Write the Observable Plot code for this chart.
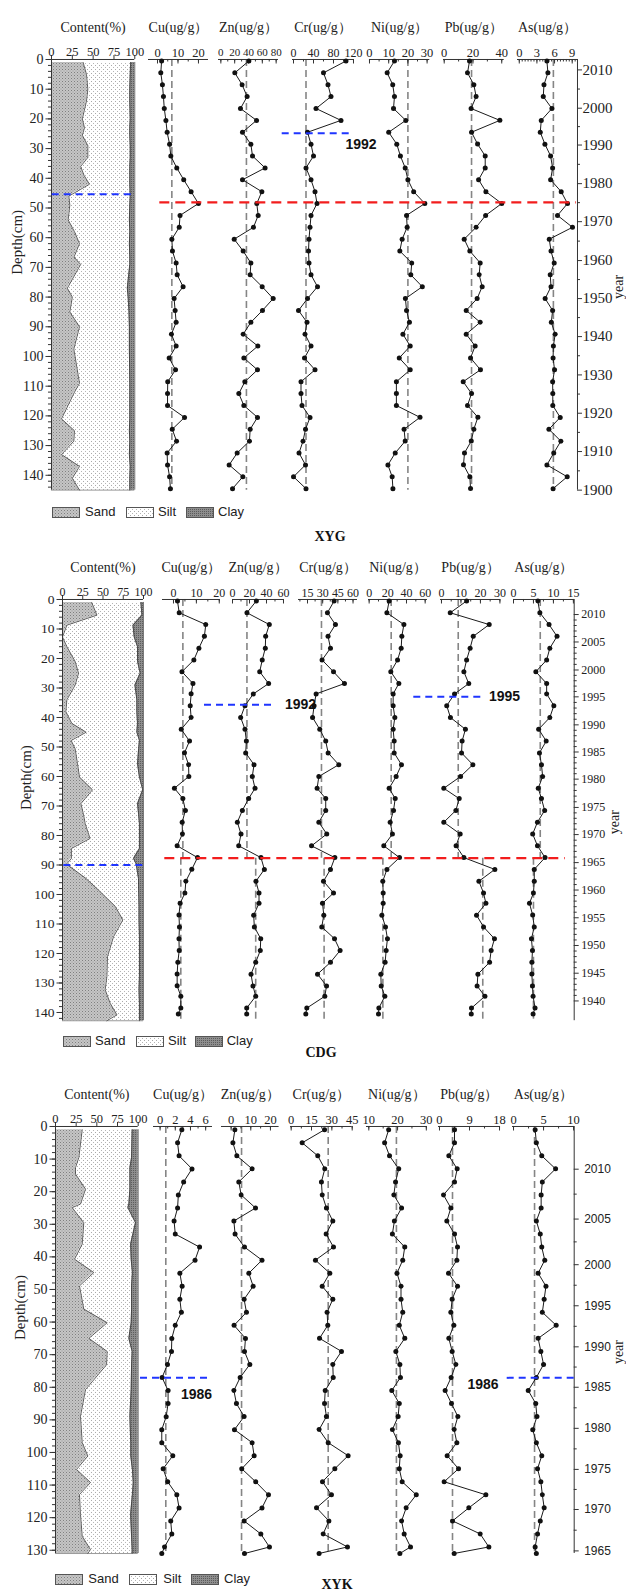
<!DOCTYPE html>
<html><head><meta charset="utf-8">
<script src="https://cdn.jsdelivr.net/npm/d3@7"></script>
<script src="https://cdn.jsdelivr.net/npm/@observablehq/plot@0.6"></script>
<style>
body{margin:0;background:#fff;}
#root{position:relative;width:626px;height:1592px;overflow:hidden;background:#fff;}
.lgt{position:absolute;font-family:"Liberation Sans",Arial,sans-serif;font-size:13px;color:#222;line-height:16px;}
.lgb{position:absolute;}
.pl{position:absolute;font-family:"Liberation Serif","Times New Roman",serif;font-weight:bold;font-size:14px;color:#111;transform:translateX(-50%);line-height:16px;}
</style></head><body>
<svg width="0" height="0" style="position:absolute">
<defs>
<pattern id="patSand" width="3" height="3" patternUnits="userSpaceOnUse"><rect width="3" height="3" fill="#c6c6c6"/><rect x="0" y="0" width="1" height="1" fill="#7e7e7e"/><rect x="1.5" y="1.5" width="1" height="1" fill="#969696"/></pattern>
<pattern id="patSilt" width="4" height="4" patternUnits="userSpaceOnUse"><rect width="4" height="4" fill="#ffffff"/><rect x="0" y="0" width="1" height="1" fill="#a8a8a8"/><rect x="2" y="2" width="1" height="1" fill="#b4b4b4"/></pattern>
<pattern id="patClay" width="2" height="2" patternUnits="userSpaceOnUse"><rect width="2" height="2" fill="#8e8e8e"/><rect width="1" height="1" fill="#5c5c5c"/></pattern>
</defs></svg>
<div id="root"></div>
<script>
// ================= DATA =================
// ---- XYG ----
const xygDepth = [0.5,4.5,8.5,12.5,16.5,20.5,24.5,28.5,32.5,36.5,40.5,44.5,48.5,52.5,56.5,60.5,64.5,68.5,72.5,76.5,80.5,84.5,88.5,92.5,96.5,100.5,104.5,108.5,112.5,116.5,120.5,124.5,128.5,132.5,136.5,140.5,144.5];
const xygCu = [2.0,1.6,2.4,2.9,3.3,4.1,4.7,5.9,6.5,9.4,12.8,16.4,20.0,11.0,10.6,7.0,7.3,9.1,9.6,12.5,8.1,8.6,9.1,6.8,9.1,5.7,8.8,5.0,4.9,4.9,13.2,7.2,9.3,4.7,4.9,5.9,6.3];
const xygZn = [40.5,20.2,30.8,38,28.4,51.6,31.3,43.4,45.8,64,31.3,59.3,52,54,47.2,19.3,32.3,43.4,42.4,59.8,75.7,60.2,43.4,32.3,53.5,33.3,53,34.7,26,33.3,53,42.4,41.4,23.6,12,31.8,16.9];
const xygCr = [105,60,69,75,45,95,28,35,40,25,35,43,47,35,33,31,30,31,35,48,28,10,27,23,35,22,43,15,15,17,33,24,19,11,24,0,25];
const xygNi = [13,9.2,12.1,13,12.5,18.9,10,14.2,16.1,18.6,20,23,28.8,19.3,19.6,17,15.8,22,21.5,27.5,18.7,19.3,20.8,17.4,21.2,15.5,21.2,14,14,14,26.3,18,18.6,13.4,9.6,11.8,12.2];
const xygPb = [17.6,16.2,20.6,22.2,18.7,38.7,19,23.2,28.5,28.5,23.9,29,40,28.8,22.2,13.9,17.8,25,24.3,26.4,22.9,15.3,25,15.3,21.5,18.3,25.2,13.2,19,16.2,23.4,20.6,18.8,14.1,13.4,17.8,18.3];
const xygAs = [4.7,4.87,4.2,4.08,5.55,3.74,3.57,4.36,5.33,5.67,5.33,7.13,8.2,6.5,9.05,5.1,5.4,5.94,5.26,5.4,4.4,5.67,5.45,6.1,5.8,5.75,6.0,5.67,5.7,5.7,6.96,5.04,7.07,5.86,4.7,8.15,5.75];
const xygBase = [7,37,25,20,19,5.8];
const xygContentDepth = [1,5,10,14,20,23,25.5,29,33,36,39,42,46,49,54,58,62,66.5,69,77,80,85,90,97.5,109,112,121,125,128.5,133,137,141,145];
const xygSand = [38,42,43.6,42,37,39.6,37,43.6,43.6,35,39,45.6,20.8,22,20,27.6,33.6,27,35,19,25,22,33.6,26.8,33.6,27.6,12,27.6,26.8,12,33.6,25,33.6];
const xygClay = [5,5.5,6,6,5.5,6,6,5.5,5.5,6,6,6,5.5,6,6.5,6,6.5,6,6,9,8,7,6.5,6.5,6,6,6,6.5,6,6.5,5.5,6,6];
const xygYears = [2010,2000,1990,1980,1970,1960,1950,1940,1930,1920,1910,1900];
const xygYearDepth = [3.5,16.4,28.8,41.8,54.6,67.7,80.5,93.3,106.2,119.1,132,145];

// ---- CDG ----
const cdgDepth = [0.5,4.5,8.5,12.5,16.5,20.5,24.5,28.5,32,36,40,44,48,52,56,60,64,67.5,71.5,75.5,79.5,83.5,87.5,91.5,95.5,99.5,103,107,111,115,119,123,127,131,134.5,138.5,140.5];
const cdgCu = [1.75,2.5,14.1,13.5,11.1,8.9,3.7,8.5,7.7,7.3,7.7,3.4,7,4.8,6.6,6.7,0.4,4.1,5.2,3.8,3.9,1.6,10.5,8,5.4,5,2.9,2.4,2.6,2.4,2.5,1.9,1.6,1.6,3.2,3.2,2.1];
const cdgZn = [28,17,43.3,39,38.6,35,32,42.5,24.5,14.7,9.6,14.7,16.3,15.5,25.3,23.3,26.5,19,11.6,5.7,10,7.3,33.5,37.5,27.6,31.2,31.2,24.9,25.7,33.2,32.7,27.3,21.8,24.1,27.3,16.7,16.7];
const cdgCr = [41.3,34.7,42.6,35.3,37.7,29.4,40.7,51.5,23.5,21.5,20,27.1,33,35.4,45.9,26.2,24.5,33,33,26.2,34,19,42,37.7,30.8,40.7,29.8,31.1,29.1,41.7,47.2,37.7,24.9,33.8,32.1,14.3,13.3];
const cdgNi = [21.4,19,37.2,35,34.3,30.4,23.2,31.8,25.7,25.7,27.5,25.7,26.8,26.8,34.6,28.9,21.4,27.9,26.1,22.5,25,15.7,32.5,19,14.6,15,15,13.6,17.5,19.6,18.2,17.1,12.5,12.9,16.8,10.4,10];
const cdgPb = [12.9,4.5,24.5,16.3,14.7,12.9,11.5,14,6.7,2.7,4.6,12.3,10.6,10.3,16.1,9.8,1.2,9.1,7.4,1.2,9.6,7.5,11.5,27.4,19.2,21.6,22.8,18,21.6,27.2,25.5,24.7,18.7,18.3,22.3,15.4,15.3];
const cdgAs = [6.1,6.6,8.9,10.9,9.1,8.3,5.6,8.3,8.3,10.1,9.1,6.3,8.2,6.5,7,7.3,6.2,7,7.8,6,4.8,6,7.9,5.2,5.2,5,4,4.8,5.2,4.5,4.75,4.6,4.6,4.75,4.9,5.4,4.9];
const cdgBaseUpper = [4.1,17,28.8,23.6,8.6,6.7];
const cdgBaseLower = [3.2,27.3,31.4,14.7,21.2,5.0];
const cdgContentDepth = [1,5.3,8.7,12.7,16,21,25,29,34,38,42,45,47.8,50.6,55.7,60.2,64.5,69.2,73,76,81,84.4,87.8,89.7,94.6,98.5,104,108.6,114.3,121,127.8,132.3,136.9,140.8,142.8];
const cdgSand = [36,42.5,5.4,0,5.4,15.6,19.8,15.6,5.4,4.1,11.5,29.2,10.7,15.6,18.5,21,37,22.7,26,28,34,11,11,4.9,29.2,44.4,65,74.5,63,55.6,54.8,52.7,58.9,67.2,54.8];
const cdgClay = [3.2,2,13,11.5,7.4,7.4,4.1,10.6,8.2,8.2,7.4,8.2,5,6,7.4,5,1,7.4,6,5,5,5,12.4,9,6.2,6,5.5,5.5,5,5,5,5.5,5,5,5];
const cdgYears = [2010,2005,2000,1995,1990,1985,1980,1975,1970,1965,1960,1955,1950,1945,1940];
const cdgYearDepth = [5.1,14.4,23.9,33.0,42.5,51.7,60.9,70.5,79.7,89.2,98.5,107.9,117.3,126.7,136.1];

// ---- XYK ----
const xykDepth = [1,5,9,13,17,21,25,29,33,37,41,45,49,53,57,61,65,69,73,77,81,85,89,93,97,101,105,109,113,117,121,125,129,131];
const xykCu = [2.86,2.3,2.5,4.2,3.1,2.4,2.3,1.84,2,5.2,4.6,2.6,2.9,2.6,2.8,2,1.54,1.5,0.97,0.26,1.05,1.05,0.8,0.22,0.22,1.67,0.4,1.0,2.2,2.5,1.4,1.54,0.58,0.22];
const xykZn = [1.9,0.9,2.9,10.7,3.9,5.1,12.4,1.4,2,6.8,15.7,9,11.2,6.6,7.8,1.5,7.3,6.8,9.5,4.6,1.4,2.7,6.6,1.7,10.7,11.7,5.4,12.5,19,15.7,6.6,15.1,19.5,6.8];
const xykCr = [24.6,8.1,19.6,24.8,22.3,22.9,26,30.7,25.8,31.2,17.9,28.5,22.9,30.7,26.5,27,20.9,37.1,30.7,31,25.1,24.6,26,20.6,27.3,42,32.2,23.1,29.7,18.7,27.8,23.6,41.5,20.6];
const xykNi = [16.9,15.5,17.2,20.4,19.3,18.7,21.4,18.9,18.2,22.5,21.8,19.8,21.2,21.2,21.8,20.6,22.5,19.4,20.8,21,18,20.6,20.2,18.2,20.3,20.9,20.6,21.6,26.5,23,21.4,22.3,24.5,20.8];
const xykPb = [4.5,4.5,2.8,5.3,4.5,1.2,3.4,2.2,4.5,5.4,5.2,2.7,5.4,3.8,3.4,4.3,2.8,3.8,4.9,3.5,1.7,3.6,5.5,4.4,5.2,2.3,5.7,1.4,13.9,8.8,3.9,12.2,14.8,4.4];
const xykAs = [3.6,3.8,4.7,7,4.8,4.6,4.6,3.8,4.45,4.7,5.2,4.1,5.4,5.1,4.8,7.1,4.1,4.55,5,3.8,2.45,3.7,3.9,3.2,3.8,4.7,4,4.55,4.8,5.1,4.45,4,3.6,3.8];
const xykBase = [0.75,5.3,27.3,19.6,3.9,3.5];
const xykContentDepth = [1,9.5,12.6,14.6,19.2,23.8,24.9,29.5,36.1,40.7,44.8,48.9,56,60.2,65,69,73.1,80.7,88.9,97,101.1,105.2,109.2,112.9,119,125.7,129.8,131];
const xykSand = [32.3,28.2,24.2,24.2,36.3,30.2,20.2,34.2,32.3,23,46.3,29,34.2,62.5,40.3,62.5,61.7,36.3,30.2,32.3,39.1,25.4,42.3,29,30.2,32.3,42.3,39];
const xykClay = [7.3,8,10,10,10,11.3,12.5,3.3,9.2,8.5,7,8,8,8.5,11.3,7.3,8,8.5,10,9,9,7,6,7,9.2,8,7.3,7.3];
const xykYears = [2010,2005,2000,1995,1990,1985,1980,1975,1970,1965];
const xykYearDepth = [13.1,28.4,42.4,55.0,67.6,80.0,92.6,105.2,117.5,130.2];

// labels
const metalTitles = ["Cu(ug/g）","Zn(ug/g）","Cr(ug/g）","Ni(ug/g）","Pb(ug/g）","As(ug/g）"];
const contentTicks = [0,25,50,75,100];
const legendNames = ["Sand","Silt","Clay"];

// ================= LAYOUT / STYLE =================
const SERIF = '"Liberation Serif","Times New Roman",serif';
const SANS = '"Liberation Sans",Arial,sans-serif';
const AX = "#333";
const MT = 50, MB = 10;
const root = document.getElementById("root");

function place(svg, left, top) {
  svg.style.position = "absolute";
  svg.style.left = left + "px";
  svg.style.top = top + "px";
  root.appendChild(svg);
}
function st() { return {background:"transparent", overflow:"visible", fontFamily:SERIF, fontSize:"12px", color:"#222"}; }

function metalCol(P, C, isLast) {
  const mL = 10, mR = isLast ? 58 : 10;
  const innerW = C.x1 - C.x0;
  const innerH = P.depthMax * P.ppc;
  const t = 1 / P.ppc;
  const ux = (C.domain[1] - C.domain[0]) / innerW;
  const data = P.depth.map((d, i) => ({depth:d, v:C.values[i]}));
  const minor = d3.range(Math.ceil(C.domain[0] / C.minor - 1e-9) * C.minor, C.domain[1] + 1e-9, C.minor);
  const marks = [
    Plot.ruleX(C.base, {x:"v", y1:"d1", y2:"d2", stroke:"#858585", strokeWidth:1.6, strokeDasharray:"7,4"}),
    Plot.ruleY([0], {stroke:AX, strokeWidth:1}),
    Plot.ruleX(minor, {x:d=>d, y1:0, y2:2.5*t, stroke:AX}),
    Plot.ruleX(C.ticks, {x:d=>d, y1:0, y2:4.5*t, stroke:AX}),
    Plot.text(C.ticks, {x:d=>d, text:d=>String(d), frameAnchor:"top", dy:-11, fontSize:C.tickFont || P.tickFont, fill:"#222"}),
    Plot.text([C.title], {text:d=>d, frameAnchor:"top", dy:-37, fontSize:14, fill:"#222"}),
    Plot.line(data, {x:"v", y:"depth", stroke:"#1a1a1a", strokeWidth:1}),
    Plot.dot(data, {x:"v", y:"depth", r:2.5, fill:"#111", stroke:"none"})
  ];
  if (isLast) {
    const xr = C.domain[1];
    const minorY = [];
    for (let i = 0; i < P.yearDepth.length - 1; i++) {
      const a = P.yearDepth[i], b = P.yearDepth[i+1];
      for (let k = 1; k < P.yearSub; k++) minorY.push(a + (b - a) * k / P.yearSub);
    }
    marks.push(Plot.ruleX([xr], {y1:0, y2:P.depthMax, stroke:AX}));
    marks.push(Plot.ruleY(minorY, {y:d=>d, x1:xr, x2:xr + 3*ux, stroke:AX}));
    marks.push(Plot.ruleY(P.yearDepth, {y:d=>d, x1:xr, x2:xr + 5*ux, stroke:AX}));
    marks.push(Plot.text(P.yearDepth, {y:d=>d, x:xr, dx:P.yearDx0, text:(d,i)=>String(P.years[i]), textAnchor:"start", fontSize:P.yearFont, fontFamily:P.yearFamily, fill:"#222"}));
    marks.push(Plot.text(["year"], {text:d=>d, frameAnchor:"right", dx:P.yearDx, rotate:-90, fontSize:14, fill:"#222"}));
  }
  const svg = Plot.plot({
    width: innerW + mL + mR, height: innerH + MT + MB,
    marginTop: MT, marginBottom: MB, marginLeft: mL, marginRight: mR,
    x: {domain: C.domain, axis: null},
    y: {domain: [0, P.depthMax], reverse: true, axis: null},
    style: st(),
    marks
  });
  place(svg, C.x0 - mL, P.y0 - MT);
}

function contentCol(P) {
  const C = P.content;
  const mL = 52, mR = 6;
  const innerW = C.x1 - C.x0;
  const innerH = P.depthMax * P.ppc;
  const t = 1 / P.ppc, ux = 100 / innerW;
  const rows = C.depth.map((d, i) => ({depth:d, zero:0, sand:C.sand[i], top:100 - C.clay[i], full:100}));
  const dMajor = d3.range(0, P.depthMax + 1e-9, 10);
  const dMinor = d3.range(0, P.depthMax + 1e-9, 2);
  const marks = [
    Plot.areaX(rows, {y:"depth", x1:"zero", x2:"sand", fill:"url(#patSand)"}),
    Plot.areaX(rows, {y:"depth", x1:"sand", x2:"top", fill:"url(#patSilt)"}),
    Plot.areaX(rows, {y:"depth", x1:"top", x2:"full", fill:"url(#patClay)"}),
    Plot.lineX(rows, {x:"sand", y:"depth", stroke:"#3a3a3a", strokeWidth:0.8}),
    Plot.lineX(rows, {x:"top", y:"depth", stroke:"#3a3a3a", strokeWidth:0.8}),
    Plot.ruleX([100], {y1:C.depth[0], y2:P.depthMax, stroke:"#555", strokeWidth:0.8}),
    Plot.ruleY([P.depthMax], {x1:0, x2:100, stroke:"#555", strokeWidth:0.6}),
    Plot.ruleY([0], {x1:0, x2:100, stroke:AX}),
    Plot.ruleX(contentTicks, {x:d=>d, y1:0, y2:-4*t, stroke:AX}),
    Plot.text(contentTicks, {x:d=>d, text:d=>String(d), frameAnchor:"top", dy:-12, fontSize:P.tickFont, fill:"#222"}),
    Plot.text(["Content(%)"], {text:d=>d, frameAnchor:"top", dy:-37, fontSize:14, fill:"#222"}),
    Plot.ruleX([0], {y1:0, y2:P.depthMax, stroke:AX}),
    Plot.ruleY(dMinor, {y:d=>d, x1:-3*ux, x2:0, stroke:AX}),
    Plot.ruleY(dMajor, {y:d=>d, x1:-5.5*ux, x2:0, stroke:AX}),
    Plot.text(dMajor, {y:d=>d, x:0, dx:-8, textAnchor:"end", text:d=>String(d), fontSize:P.depthFont, fill:"#222"}),
    Plot.text(["Depth(cm)"], {text:d=>d, frameAnchor:"left", dx:P.depthLabelDx, rotate:-90, fontSize:15, fill:"#222"})
  ];
  const svg = Plot.plot({
    width: innerW + mL + mR, height: innerH + MT + MB,
    marginTop: MT, marginBottom: MB, marginLeft: mL, marginRight: mR,
    x: {domain: [0, 100], axis: null},
    y: {domain: [0, P.depthMax], reverse: true, axis: null},
    style: st(),
    marks
  });
  place(svg, C.x0 - mL, P.y0 - MT);
}

function overlay(P) {
  const innerH = P.depthMax * P.ppc;
  const svg = Plot.plot({
    width: 626, height: innerH + MT + MB,
    marginTop: MT, marginBottom: MB, marginLeft: 0, marginRight: 0,
    x: {domain: [0, 626], range: [0, 626], axis: null},
    y: {domain: [0, P.depthMax], reverse: true, axis: null},
    style: st(),
    marks: [
      Plot.ruleY(P.blue, {y:"depth", x1:"x1", x2:"x2", stroke:"#1f35ff", strokeWidth:2, strokeDasharray:"7,5"}),
      Plot.ruleY(P.red, {y:"depth", x1:"x1", x2:"x2", stroke:"#f21d1d", strokeWidth:2.2, strokeDasharray:"10,6"}),
      Plot.text(P.labels, {x:"x", y:"depth", text:"text", fontFamily:SANS, fontWeight:"bold", fontSize:14, fill:"#111"})
    ]
  });
  place(svg, 0, P.y0 - MT);
}

function legend(L) {
  legendNames.forEach((name, i) => {
    const pat = ["patSand","patSilt","patClay"][i];
    const b = document.createElement("div");
    b.className = "lgb";
    b.style.left = L.box[i] + "px";
    b.style.top = (L.y - 5) + "px";
    b.innerHTML = `<svg width="28" height="11" style="display:block"><rect x="0.5" y="0.5" width="27" height="10" fill="url(#${pat})" stroke="#555"/></svg>`;
    root.appendChild(b);
    const s = document.createElement("div");
    s.className = "lgt";
    s.style.left = L.text[i] + "px";
    s.style.top = (L.y - 8) + "px";
    s.textContent = name;
    root.appendChild(s);
  });
}
function panelLabel(text, x, y) {
  const d = document.createElement("div");
  d.className = "pl";
  d.style.left = x + "px";
  d.style.top = (y - 8) + "px";
  d.textContent = text;
  root.appendChild(d);
}

function buildCols(spec, values, bases) {
  return spec.map((s, i) => Object.assign({title: metalTitles[i], values: values[i], base: bases[i]}, s));
}

// ---- panel configs ----
const XYG = {
  y0:58.7, ppc:2.97, depthMax:145, depth:xygDepth,
  tickFont:12.5, depthFont:14, yearFont:15, yearFamily:SERIF, yearDx0:5, yearDx:41, yearSub:2,
  depthLabelDx:-34, years:xygYears, yearDepth:xygYearDepth,
  content:{x0:51, x1:134.3, depth:xygContentDepth, sand:xygSand, clay:xygClay},
  cols: buildCols([
    {x0:148.3, x1:208.3, domain:[-4.4,24.9], ticks:[0,10,20], minor:5},
    {x0:217.7, x1:277.7, domain:[-3.4,83.4], ticks:[0,20,40,60,80], minor:10, tickFont:11},
    {x0:292.3, x1:353.3, domain:[-2,120], ticks:[0,40,80,120], minor:20, tickFont:12},
    {x0:369, x1:429.3, domain:[0,31.4], ticks:[0,10,20,30], minor:5},
    {x0:443.3, x1:504, domain:[-0.5,41.7], ticks:[0,20,40], minor:10},
    {x0:516.7, x1:576.7, domain:[-0.3,9.9], ticks:[0,3,6,9], minor:0.5}
  ], [xygCu,xygZn,xygCr,xygNi,xygPb,xygAs], xygBase.map(v => [{v, d1:0, d2:145}])),
  blue:[{depth:45.4, x1:51.7, x2:133.3},{depth:24.8, x1:281.7, x2:349.3}],
  red:[{depth:48.1, x1:159.3, x2:576}],
  labels:[{text:"1992", x:360.5, depth:28.5}],
  legend:{y:511.7, box:[51.7,126,185.7], text:[85,158,218]},
  name:["XYG", 330, 537]
};
const CDG_SPLIT = 87.7;
const CDG = {
  y0:599.3, ppc:2.95, depthMax:142.8, depth:cdgDepth,
  tickFont:12, depthFont:13.5, yearFont:12, yearFamily:SERIF, yearDx0:7, yearDx:40, yearSub:5,
  depthLabelDx:-36, years:cdgYears, yearDepth:cdgYearDepth,
  content:{x0:62.3, x1:143.3, depth:cdgContentDepth, sand:cdgSand, clay:cdgClay},
  cols: buildCols([
    {x0:162.3, x1:220, domain:[-4.8,20.4], ticks:[0,10,20], minor:5},
    {x0:232.3, x1:283.3, domain:[0,60], ticks:[0,20,40,60], minor:10},
    {x0:297.7, x1:356.7, domain:[6.1,64.4], ticks:[15,30,45,60], minor:7.5},
    {x0:368.3, x1:427.3, domain:[-0.7,62.5], ticks:[0,20,40,60], minor:10},
    {x0:440, x1:500, domain:[-0.5,30.3], ticks:[0,10,20,30], minor:5},
    {x0:513.3, x1:574, domain:[0,15.2], ticks:[0,5,10,15], minor:2.5}
  ], [cdgCu,cdgZn,cdgCr,cdgNi,cdgPb,cdgAs],
     cdgBaseUpper.map((v, i) => [{v, d1:0, d2:CDG_SPLIT}, {v:cdgBaseLower[i], d1:CDG_SPLIT, d2:142.8}])),
  blue:[{depth:90, x1:63.3, x2:142.7},{depth:35.7, x1:204, x2:273.3},{depth:33, x1:413.3, x2:481.7}],
  red:[{depth:CDG_SPLIT, x1:164.3, x2:565}],
  labels:[{text:"1992", x:300, depth:35.7},{text:"1995", x:504, depth:33}],
  legend:{y:1040.7, box:[63.3,135.7,195], text:[95,168,226.7]},
  name:["CDG", 321, 1053]
};
const XYK = {
  y0:1125.7, ppc:3.26, depthMax:131, depth:xykDepth,
  tickFont:12.5, depthFont:14, yearFont:12, yearFamily:SANS, yearDx0:10, yearDx:44, yearSub:2,
  depthLabelDx:-35, years:xykYears, yearDepth:xykYearDepth,
  content:{x0:55, x1:137.7, depth:xykContentDepth, sand:xykSand, clay:xykClay},
  cols: buildCols([
    {x0:152.7, x1:211.7, domain:[-0.87,6.9], ticks:[0,2,4,6], minor:1},
    {x0:220.7, x1:278.3, domain:[-4.9,24.4], ticks:[0,10,20], minor:5},
    {x0:290, x1:351.7, domain:[-0.5,45], ticks:[0,15,30,45], minor:7.5},
    {x0:366, x1:426.7, domain:[9.2,30.3], ticks:[10,20,30], minor:5},
    {x0:438.3, x1:500, domain:[-0.3,18.2], ticks:[0,9,18], minor:4.5},
    {x0:512.3, x1:574, domain:[-0.17,10.1], ticks:[0,5,10], minor:2.5}
  ], [xykCu,xykZn,xykCr,xykNi,xykPb,xykAs], xykBase.map(v => [{v, d1:0, d2:131}])),
  blue:[{depth:77.1, x1:140, x2:209.3},{depth:77.1, x1:506.7, x2:575.3}],
  red:[],
  labels:[{text:"1986", x:196, depth:82.2},{text:"1986", x:482.5, depth:79.3}],
  legend:{y:1579.3, box:[55,129.3,191], text:[88.3,163.3,224]},
  name:["XYK", 337, 1585]
};

for (const P of [XYG, CDG, XYK]) {
  contentCol(P);
  P.cols.forEach((C, i) => metalCol(P, C, i === P.cols.length - 1));
  overlay(P);
  legend(P.legend);
  panelLabel(...P.name);
}
</script>
</body></html>
